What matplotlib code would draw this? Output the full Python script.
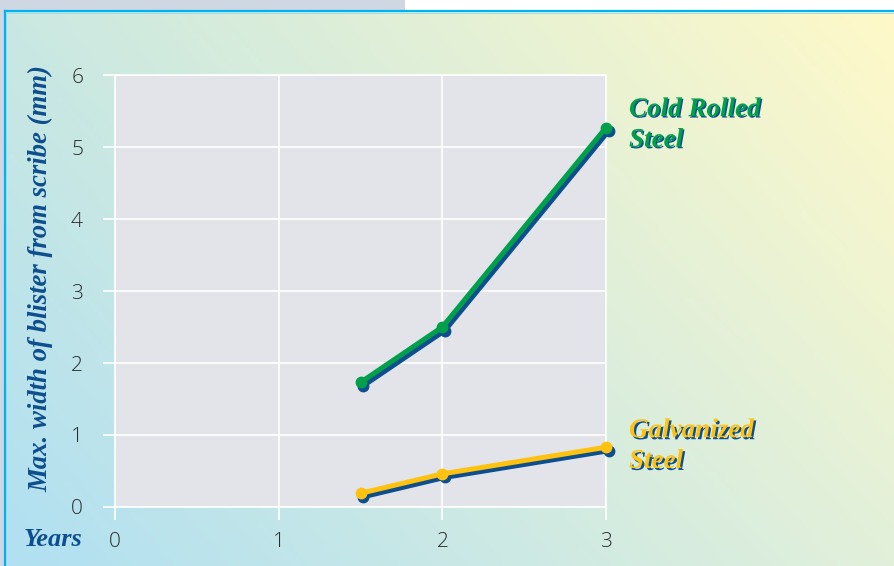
import numpy as np
import matplotlib
matplotlib.use("Agg")
from matplotlib import pyplot as plt
from matplotlib import transforms
import matplotlib.patheffects as pe

years = [1.5, 2, 3]
cold_rolled = [1.73, 2.5, 5.27]
galvanized = [0.19, 0.46, 0.83]
x_ticks = [0, 1, 2, 3]
y_ticks = [0, 1, 2, 3, 4, 5, 6]

navy = '#0d4e8e'
green = '#00a04b'
yellow = '#ffc20e'

W, H = 895, 566
fig = plt.figure(figsize=(W / 100, H / 100), dpi=100)
fig.patch.set_facecolor('white')

# background: gray strip, gradient panel with blue border
bg = fig.add_axes([0, 0, 1, 1])
bg.set_xlim(0, W)
bg.set_ylim(H, 0)
bg.axis('off')
bg.add_patch(plt.Rectangle((0, 0), 405, 11, color='#cfd8e2', lw=0))
bg.add_patch(plt.Rectangle((0, 0), 4, H, color='#cfd8e2', lw=0))

corners = {
    'tl': np.array([0xca, 0xe8, 0xe2]) / 255,
    'tr': np.array([0xff, 0xf9, 0xc8]) / 255,
    'bl': np.array([0xb0, 0xe0, 0xf2]) / 255,
    'br': np.array([0xe2, 0xf0, 0xda]) / 255,
}
u = np.linspace(0, 1, 200)[None, :, None]
v = np.linspace(0, 1, 120)[:, None, None]
grad = ((1 - u) * (1 - v) * corners['tl'] + u * (1 - v) * corners['tr']
        + (1 - u) * v * corners['bl'] + u * v * corners['br'])
bg.imshow(grad, extent=(5, W, H, 11), aspect='auto', zorder=1)
bg.plot([5, W], [11, 11], color='#00b2ee', lw=1.6, zorder=3)
bg.plot([5, 5], [11, H], color='#00b2ee', lw=1.6, zorder=3)
bg.plot([6.5, W], [12.5, 12.5], color='#8fdcf5', lw=0.6, zorder=3)
bg.plot([6.5, 6.5], [12.5, H], color='#8fdcf5', lw=0.6, zorder=3)

ax = fig.add_axes([115 / W, 1 - 507 / H, (606 - 115) / W, (507 - 75) / H])
ax.set_facecolor('#e3e4ea')
ax.set_xlim(0, 3)
ax.set_ylim(0, 6)
ax.set_xticks(x_ticks)
ax.set_yticks(y_ticks)
ax.grid(True, color='white', lw=1.2)
ax.set_axisbelow(True)
for s in ax.spines.values():
    s.set_color('white')
    s.set_linewidth(1.2)
ax.tick_params(colors='white', length=9, width=1.2, labelcolor='#2b2b2b',
               labelsize=15)
ax.tick_params(axis='x', pad=9)
ax.tick_params(axis='y', pad=14)
for lab in ax.get_xticklabels() + ax.get_yticklabels():
    lab.set_fontfamily('Open Sans')
    lab.set_fontweight('light')

shadow = transforms.offset_copy(ax.transData, fig=fig, x=2.5, y=-3.5, units='dots')
for vals, col in [(cold_rolled, green), (galvanized, yellow)]:
    ax.plot(years, vals, color=navy, lw=3.6, marker='o', ms=7.5,
            transform=shadow, clip_on=False, zorder=3, solid_capstyle='round')
    ax.plot(years, vals, color=col, lw=3.6, marker='o', ms=7.5,
            clip_on=False, zorder=4, solid_capstyle='round')

serif = dict(family='Liberation Serif', weight='bold', style='italic')
fig.text(41 / W, 1 - 279 / H, 'Max. width of blister from scribe (mm)',
         rotation=90, ha='center', va='center', color=navy, fontsize=19.3, **serif)
fig.text(24 / W, 1 - 540 / H, 'Years', ha='left', va='center',
         color=navy, fontsize=19, **serif)

fig.text(629 / W, 1 - 125 / H, 'Cold Rolled\nSteel', ha='left', va='center',
         color=green, fontsize=19.5, linespacing=1.3, **serif,
         path_effects=[pe.withSimplePatchShadow(offset=(1, -1), shadow_rgbFace=navy, alpha=1)])
fig.text(629 / W, 1 - 446 / H, 'Galvanized\nSteel', ha='left', va='center',
         color=yellow, fontsize=19.5, linespacing=1.3, **serif,
         path_effects=[pe.withSimplePatchShadow(offset=(1.5, -1.5), shadow_rgbFace=navy, alpha=1)])

fig.savefig('out.png', dpi=100)
